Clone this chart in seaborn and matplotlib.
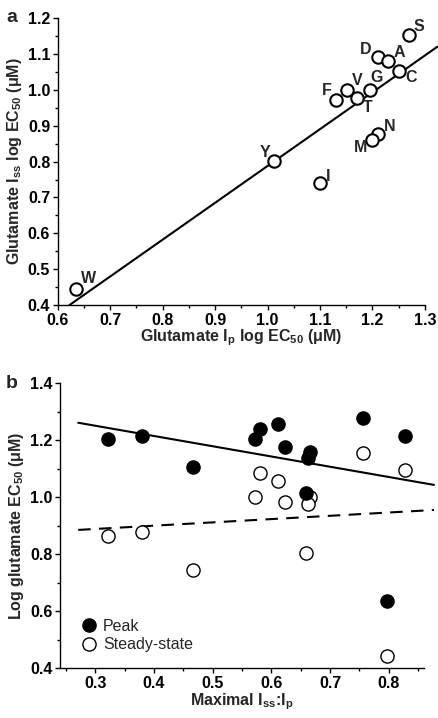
import matplotlib
matplotlib.use("Agg")
import matplotlib.pyplot as plt
import seaborn as sns
import pandas as pd
from matplotlib.ticker import MultipleLocator, FormatStrFormatter
from matplotlib.lines import Line2D

# ---------------- data ----------------
# Panel a: mutants, peak vs steady-state log EC50
mutants = ["S", "D", "A", "C", "G", "V", "T", "F", "N", "M", "Y", "I", "W"]
ip_logec50 = [1.270, 1.210, 1.230, 1.250, 1.195, 1.152, 1.170, 1.130, 1.210, 1.200, 1.012, 1.100, 0.635]
iss_logec50 = [1.153, 1.091, 1.080, 1.052, 1.000, 0.998, 0.978, 0.972, 0.876, 0.860, 0.802, 0.741, 0.444]
fit_a_x = [0.622, 1.324]
fit_a_y = [0.400, 1.120]

# Panel b: maximal Iss:Ip vs log EC50
ratio = [0.322, 0.380, 0.466, 0.573, 0.580, 0.611, 0.624, 0.666, 0.662, 0.659, 0.756, 0.828, 0.797]
peak = [1.205, 1.217, 1.106, 1.204, 1.239, 1.258, 1.178, 1.161, 1.138, 1.017, 1.278, 1.217, 0.637]
steady = [0.865, 0.877, 0.746, 1.003, 1.087, 1.058, 0.983, 1.003, 0.976, 0.804, 1.157, 1.096, 0.444]
fit_b_x = [0.271, 0.877]
fit_peak_y = [1.262, 1.044]
fit_steady_y = [0.886, 0.956]

# label offsets (pixels, dx right, dy down) -- layout only
label_offsets = {"S": (10, -8), "D": (-12, -8), "A": (11, -9), "C": (12, 6), "G": (7, -12),
                 "V": (10, -10), "T": (11, 10), "F": (-9, -9), "N": (12, -8), "M": (-12, 7),
                 "Y": (-9, -8), "I": (8, -6), "W": (12, -11)}

# ---------------- style ----------------
sns.set_style("ticks")
plt.rcParams["font.family"] = ["Liberation Sans", "DejaVu Sans"]
plt.rcParams["font.weight"] = "bold"
plt.rcParams["axes.labelweight"] = "bold"
plt.rcParams["mathtext.default"] = "regular"
plt.rcParams["axes.linewidth"] = 1.0
for a in ("x", "y"):
    plt.rcParams[f"{a}tick.major.size"] = 3.5
    plt.rcParams[f"{a}tick.minor.size"] = 2.5
    plt.rcParams[f"{a}tick.major.width"] = 1.0
    plt.rcParams[f"{a}tick.minor.width"] = 1.0
    plt.rcParams[f"{a}tick.color"] = "black"
plt.rcParams["axes.edgecolor"] = "black"

FS = 11.5

fig = plt.figure(figsize=(4.38, 7.18), dpi=100)
ax1 = fig.add_axes([0.132, 0.575, 0.838, 0.400])
ax2 = fig.add_axes([0.137, 0.069, 0.831, 0.397])

# ---------------- panel a ----------------
dfa = pd.DataFrame({"ip": ip_logec50, "iss": iss_logec50, "mutant": mutants})
sns.lineplot(x=fit_a_x, y=fit_a_y, ax=ax1, color="black", linewidth=1.5,
             legend=False, clip_on=False, zorder=2)
sns.scatterplot(data=dfa, x="ip", y="iss", ax=ax1, s=80, facecolor="white",
                edgecolor="black", linewidth=1.5, zorder=3, clip_on=False, legend=False)
for m, x, y in zip(mutants, ip_logec50, iss_logec50):
    dx, dy = label_offsets[m]
    ax1.annotate(m, (x, y), xytext=(dx * 0.72, -dy * 0.72), textcoords="offset points",
                 ha="center", va="center", fontsize=FS, fontweight="bold")
ax1.set_xlim(0.6, 1.3)
ax1.set_ylim(0.4, 1.2)
ax1.xaxis.set_major_locator(MultipleLocator(0.1))
ax1.xaxis.set_minor_locator(MultipleLocator(0.05))
ax1.yaxis.set_major_locator(MultipleLocator(0.1))
ax1.yaxis.set_minor_locator(MultipleLocator(0.05))
ax1.xaxis.set_major_formatter(FormatStrFormatter("%.1f"))
ax1.yaxis.set_major_formatter(FormatStrFormatter("%.1f"))
ax1.set_xlabel(r"Glutamate I$_p$ log EC$_{50}$ ($\mu$M)", fontsize=FS, labelpad=0)
ax1.set_ylabel(r"Glutamate I$_{ss}$ log EC$_{50}$ ($\mu$M)", fontsize=FS, labelpad=3)
sns.despine(ax=ax1)
ax1.tick_params(labelsize=FS, pad=2)
fig.text(12 / 438, 1 - 17 / 718, "a", fontsize=14, fontweight="bold", ha="center", va="center")

# ---------------- panel b ----------------
dfb = pd.DataFrame({"ratio": ratio, "peak": peak, "steady": steady})
sns.lineplot(x=fit_b_x, y=fit_peak_y, ax=ax2, color="black", linewidth=1.5,
             legend=False, clip_on=False, zorder=2)
sns.lineplot(x=fit_b_x, y=fit_steady_y, ax=ax2, color="black", linewidth=1.5,
             legend=False, clip_on=False, zorder=2)
ax2.lines[-1].set_dashes([6, 4])
sns.scatterplot(data=dfb, x="ratio", y="steady", ax=ax2, s=90, facecolor="white",
                edgecolor="black", linewidth=1.0, zorder=3, clip_on=False, legend=False)
sns.scatterplot(data=dfb, x="ratio", y="peak", ax=ax2, s=90, color="black",
                edgecolor="black", linewidth=1.0, zorder=4, clip_on=False, legend=False)
ax2.set_xlim(0.24, 0.86)
ax2.set_ylim(0.4, 1.4)
ax2.xaxis.set_major_locator(MultipleLocator(0.1))
ax2.xaxis.set_minor_locator(MultipleLocator(0.05))
ax2.yaxis.set_major_locator(MultipleLocator(0.2))
ax2.yaxis.set_minor_locator(MultipleLocator(0.1))
ax2.xaxis.set_major_formatter(FormatStrFormatter("%.1f"))
ax2.yaxis.set_major_formatter(FormatStrFormatter("%.1f"))
ax2.set_xlabel(r"Maximal I$_{ss}$:I$_p$", fontsize=FS, labelpad=0)
ax2.set_ylabel(r"Log glutamate EC$_{50}$ ($\mu$M)", fontsize=FS, labelpad=3)
sns.despine(ax=ax2)
ax2.tick_params(labelsize=FS, pad=2)
fig.text(12 / 438, 1 - 383 / 718, "b", fontsize=14, fontweight="bold", ha="center", va="center")
handles = [Line2D([], [], marker="o", linestyle="none", markersize=9.5,
                  markerfacecolor="black", markeredgecolor="black", markeredgewidth=1.0),
           Line2D([], [], marker="o", linestyle="none", markersize=9.5,
                  markerfacecolor="white", markeredgecolor="black", markeredgewidth=1.0)]
leg = ax2.legend(handles, ["Peak", "Steady-state"], loc="lower left", frameon=False,
                 bbox_to_anchor=(0.03, 0.035), handletextpad=0.1, labelspacing=0.2,
                 borderaxespad=0.0, handlelength=1.5, prop={"size": FS, "weight": "normal"})

fig.savefig("out.png", dpi=100)
